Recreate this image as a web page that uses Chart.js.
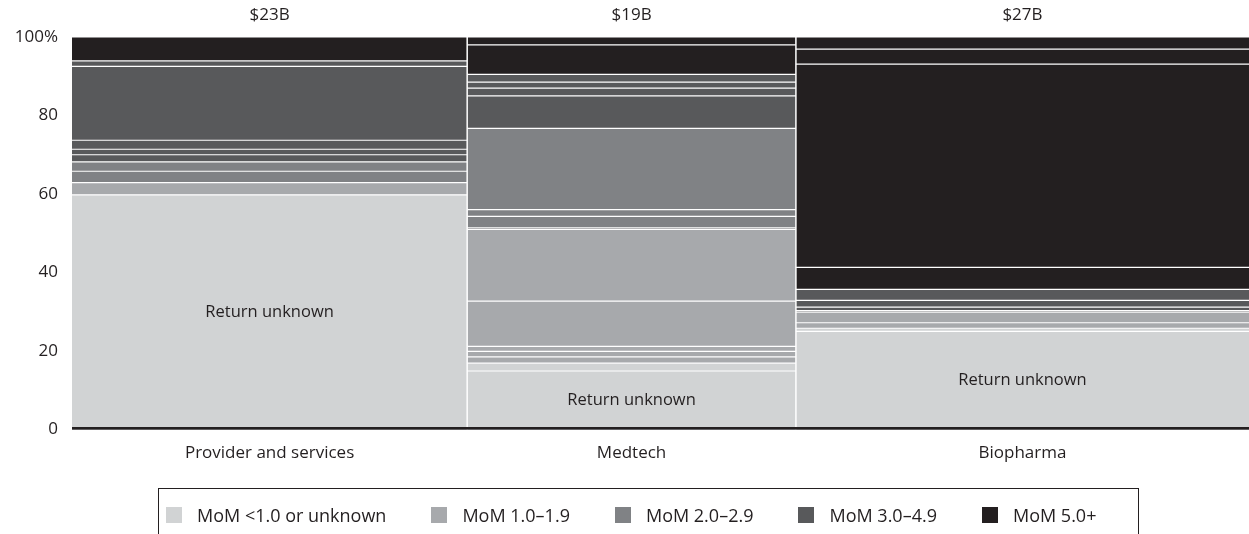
<!DOCTYPE html>
<html>
<head>
<meta charset="utf-8">
<script src="https://cdn.jsdelivr.net/npm/chart.js@4.4.1/dist/chart.umd.min.js"></script>
<style>
  body { margin: 0; background: #fff; }
  #wrap { position: relative; width: 1249px; height: 534px; }
  #legend {
    position: absolute; left: 158px; top: 488px; width: 981px; height: 60px;
    border: 1px solid #231f20; box-sizing: border-box;
    display: flex; align-items: flex-start; padding: 14px 0 0 7px; gap: 45px;
    font: 18px "Open Sans", sans-serif; color: #231f20;
  }
  #legend .item { display: flex; align-items: center; white-space: nowrap; }
  #legend .sw { width: 16px; height: 16px; margin-right: 15px; }
</style>
</head>
<body>
<div id="wrap">
  <canvas id="chart"></canvas>
  <div id="legend"></div>
</div>
<script>
const columnNames = ['Provider and services', 'Medtech', 'Biopharma'];
const columnTotals = [23.2, 19.3, 26.6]; // $B, sets column widths
const totalLabels = ['$23B', '$19B', '$27B'];
const bandNames = ['MoM <1.0 or unknown', 'MoM 1.0–1.9', 'MoM 2.0–2.9', 'MoM 3.0–4.9', 'MoM 5.0+'];
const bandColors = ['#d1d3d4', '#a7a9ac', '#808285', '#58595b', '#231f20'];

// % of each column, bottom to top, one list per MoM band
const providerShares = [[59.8], [3.1], [2.9, 2.4], [1.8, 1.4, 2.3, 18.8, 1.4], [6.1]];
const medtechShares = [[14.9, 2.0], [1.6, 1.4, 1.3, 11.5, 18.3], [0.4, 2.9, 1.7, 20.7], [8.3, 2.0, 1.5, 2.0], [7.5, 2.0]];
const biopharmaShares = [[25.0, 0.8], [1.4, 2.7], [], [0.4, 0.9, 1.7, 2.8], [5.6, 51.8, 3.8, 3.1]];
const unknownLabel = 'Return unknown';

const textColor = '#231f20';
const font = { family: '"Open Sans", sans-serif', size: 17 };

const shares = [providerShares, medtechShares, biopharmaShares];
const datasets = [];
const centers = [];
const unknownMid = [];
const edges = [];
let x0 = 0;
shares.forEach((col, c) => {
    const x1 = x0 + columnTotals[c];
    centers.push(x0 + columnTotals[c] / 2);
    let cum = 0;
    col.forEach((band, b) => {
        band.forEach((v, k) => {
            if (b === 0 && k === 0) unknownMid.push(cum + v / 2);
            cum += v;
            // each segment: top edge filled down to 0, higher ones drawn first
            datasets.push({
                data: [{ x: x0, y: cum }, { x: x1, y: cum }],
                fill: 'origin',
                backgroundColor: bandColors[b],
                borderColor: '#ffffff',
                borderWidth: 1.2,
                pointRadius: 0,
                order: cum
            });
        });
    });
    x0 = x1;
    if (c < shares.length - 1) edges.push(x1);
});
const totalWidth = x0;

// white gaps between columns
edges.forEach(e => {
    datasets.push({
        data: [{ x: e, y: 0 }, { x: e, y: 100 }],
        fill: false, borderColor: '#ffffff', borderWidth: 1.5, pointRadius: 0, order: -1
    });
});
// dark baseline
datasets.push({
    data: [{ x: 0, y: 0 }, { x: totalWidth, y: 0 }],
    fill: false, borderColor: textColor, borderWidth: 5, pointRadius: 0, order: -2
});

const unknownLabels = {
    id: 'unknownLabels',
    afterDatasetsDraw(chart) {
        const { ctx, scales: { x, y } } = chart;
        ctx.save();
        ctx.font = '16.5px "Open Sans", sans-serif';
        ctx.fillStyle = textColor;
        ctx.textAlign = 'center';
        ctx.textBaseline = 'middle';
        centers.forEach((cx, i) => {
            ctx.fillText(unknownLabel, x.getPixelForValue(cx), y.getPixelForValue(unknownMid[i]));
        });
        ctx.restore();
    }
};

const centerTicks = axis => { axis.ticks = centers.map(v => ({ value: v })); };

const ctx = document.getElementById('chart').getContext('2d');
const myChart = new Chart(ctx, {
    type: 'line',
    data: { datasets: datasets },
    options: {
        responsive: true,
        maintainAspectRatio: false,
        animation: false,
        events: [],
        layout: { padding: 0 },
        plugins: { legend: { display: false }, tooltip: { enabled: false } },
        scales: {
            x: {
                type: 'linear', position: 'bottom', min: 0, max: totalWidth,
                grid: { display: false, drawTicks: false },
                border: { display: false },
                afterBuildTicks: centerTicks,
                afterFit: s => { s.height = s.chart.height - 429.5; },
                ticks: {
                    autoSkip: false, maxRotation: 0, padding: 13, color: textColor, font: font,
                    callback: (v, i) => columnNames[i]
                }
            },
            x2: {
                type: 'linear', position: 'top', min: 0, max: totalWidth,
                grid: { display: false, drawTicks: false },
                border: { display: false },
                afterBuildTicks: centerTicks,
                afterFit: s => { s.height = 37; },
                ticks: {
                    autoSkip: false, maxRotation: 0, padding: 12, color: textColor, font: font,
                    callback: (v, i) => totalLabels[i]
                }
            },
            y: {
                min: 0, max: 100,
                grid: { display: false, drawTicks: false },
                border: { display: false },
                afterFit: s => { s.width = 72; },
                ticks: {
                    stepSize: 20, padding: 14, color: textColor, font: font,
                    callback: v => v === 100 ? '100%' : v
                }
            }
        }
    },
    plugins: [unknownLabels]
});

// legend
const legend = document.getElementById('legend');
bandNames.forEach((name, i) => {
    const item = document.createElement('div');
    item.className = 'item';
    const sw = document.createElement('span');
    sw.className = 'sw';
    sw.style.background = bandColors[i];
    const label = document.createElement('span');
    label.textContent = name;
    item.appendChild(sw);
    item.appendChild(label);
    legend.appendChild(item);
});
</script>
</body>
</html>
